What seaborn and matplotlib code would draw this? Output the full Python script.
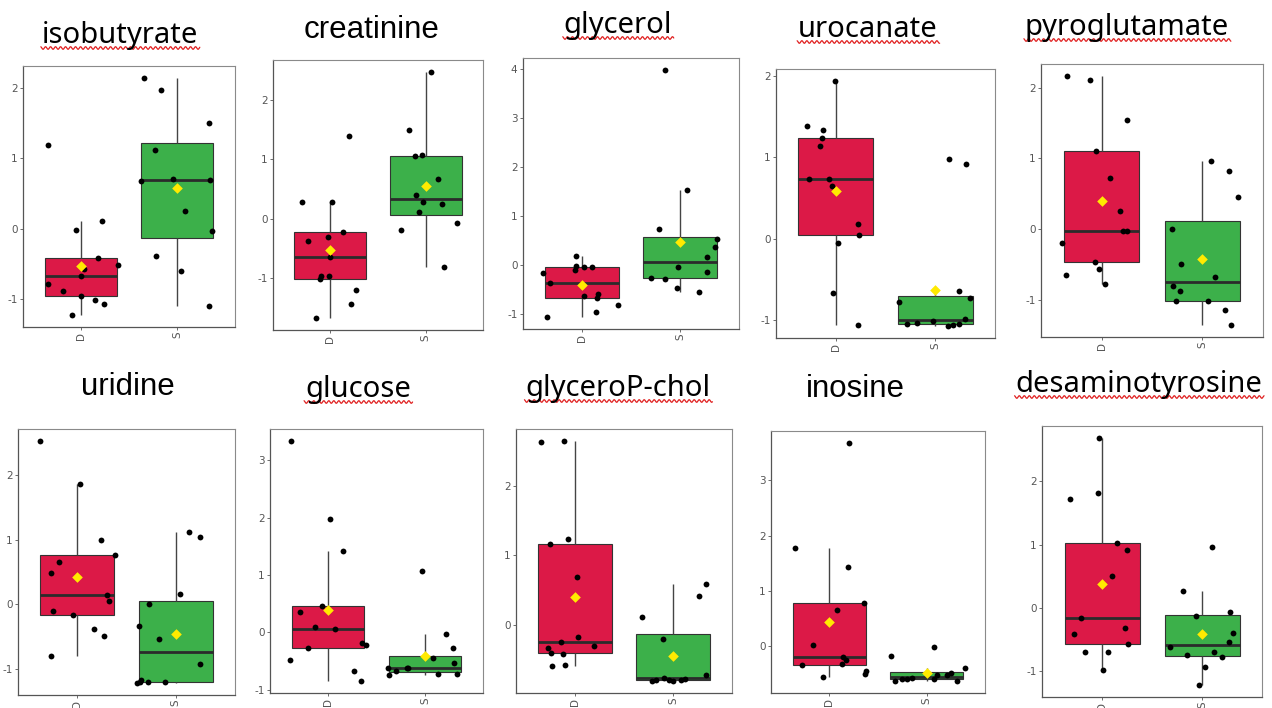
import numpy as np
import pandas as pd
import matplotlib
matplotlib.use("Agg")
import matplotlib.pyplot as plt
from matplotlib.lines import Line2D
from matplotlib.ticker import MultipleLocator
import seaborn as sns

# ---------------- data ----------------
groups = ["D", "S"]

isobutyrate_D = [1.18, 0.11, -0.02, -0.42, -0.52, -0.58, -0.68, -0.79, -0.89, -0.96, -1.02, -1.07, -1.23]
isobutyrate_S = [2.14, 1.97, 1.50, 1.12, 0.71, 0.69, 0.68, 0.25, -0.04, -0.39, -0.60, -1.10]

creatinine_D = [0.29, 0.29, 1.40, -0.22, -0.31, -0.38, -0.64, -0.96, -0.96, -1.02, -1.21, -1.44, -1.67]
creatinine_S = [2.47, 1.49, 1.08, 1.05, 0.67, 0.40, 0.28, 0.25, 0.11, -0.07, -0.19, -0.82]

glycerol_D = [0.18, -0.03, -0.05, -0.05, -0.11, -0.16, -0.38, -0.59, -0.63, -0.68, -0.83, -0.97, -1.06]
glycerol_S = [3.98, 1.53, 0.74, 0.52, 0.36, 0.16, -0.04, -0.15, -0.26, -0.29, -0.48, -0.56]

urocanate_D = [1.93, 1.38, 1.33, 1.23, 1.13, 0.73, 0.73, 0.64, 0.18, 0.04, -0.05, -0.67, -1.06]
urocanate_S = [0.91, 0.97, -0.64, -0.73, -0.78, -0.99, -1.03, -1.01, -1.05, -1.06, -1.05, -1.07]

pyroglutamate_D = [2.16, 2.11, 1.54, 1.11, 0.73, 0.25, -0.03, -0.03, -0.19, -0.47, -0.57, -0.65, -0.78]
pyroglutamate_S = [0.97, 0.82, 0.46, 0.00, -0.49, -0.68, -0.81, -0.87, -1.02, -1.02, -1.15, -1.35]

uridine_D = [2.52, 1.86, 0.99, 0.77, 0.66, 0.49, 0.14, 0.06, -0.10, -0.17, -0.38, -0.49, -0.80]
uridine_S = [1.12, 1.04, 0.16, 0.01, -0.33, -0.54, -0.92, -1.20, -1.21, -1.20, -1.17, -1.20]

glucose_D = [3.34, 1.97, 1.42, 0.46, 0.36, 0.10, 0.06, -0.19, -0.23, -0.27, -0.49, -0.68, -0.85]
glucose_S = [1.07, -0.03, -0.28, -0.45, -0.54, -0.63, -0.62, -0.62, -0.68, -0.73, -0.74, -0.73]

glycerophchol_D = [2.64, 2.65, 1.23, 1.16, 0.69, -0.18, -0.25, -0.31, -0.34, -0.40, -0.42, -0.58, -0.60]
glycerophchol_S = [0.59, 0.42, 0.11, -0.21, -0.81, -0.80, -0.79, -0.81, -0.73, -0.76, -0.78, -0.80]

inosine_D = [3.68, 1.78, 1.43, 0.78, 0.66, 0.02, -0.20, -0.25, -0.32, -0.34, -0.45, -0.51, -0.56]
inosine_S = [-0.01, -0.17, -0.40, -0.49, -0.52, -0.52, -0.59, -0.58, -0.59, -0.60, -0.62, -0.63]

desaminotyrosine_D = [2.68, 1.81, 1.72, 1.02, 0.92, 0.51, -0.15, -0.31, -0.41, -0.57, -0.69, -0.70, -0.98]
desaminotyrosine_S = [0.96, 0.27, -0.07, -0.12, -0.40, -0.54, -0.62, -0.70, -0.74, -0.78, -0.93, -1.21]

titles = ["isobutyrate", "creatinine", "glycerol", "urocanate", "pyroglutamate",
          "uridine", "glucose", "glyceroP-chol", "inosine", "desaminotyrosine"]
series = [(isobutyrate_D, isobutyrate_S), (creatinine_D, creatinine_S),
          (glycerol_D, glycerol_S), (urocanate_D, urocanate_S),
          (pyroglutamate_D, pyroglutamate_S), (uridine_D, uridine_S),
          (glucose_D, glucose_S), (glycerophchol_D, glycerophchol_S),
          (inosine_D, inosine_S), (desaminotyrosine_D, desaminotyrosine_S)]
spellchecked = {"isobutyrate", "glycerol", "urocanate", "pyroglutamate",
                "glucose", "glyceroP-chol", "desaminotyrosine"}

# ---------------- layout / style ----------------
W, H = 1272, 708
panel_px = [(23, 66, 235, 327), (273, 60, 483, 330), (523, 58, 739, 329),
            (776, 69, 995, 338), (1041, 64, 1263, 337),
            (18, 429, 235, 695), (270, 429, 483, 693), (516, 429, 732, 693),
            (771, 431, 985, 693), (1042, 426, 1262, 697)]
title_px = [(120, 43), (372, 38), (618, 33), (868, 37), (1127, 35),
            (128, 395), (358, 397), (618, 396), (855, 397), (1139, 392)]

RED = "#DC1947"
GREEN = "#3CB04A"
YELLOW = "#FFEA00"

sns.set_style("white")
plt.rcParams["font.family"] = ["DejaVu Sans"]
plt.rcParams["axes.unicode_minus"] = False

np.random.seed(7)
fig = plt.figure(figsize=(W / 100, H / 100), dpi=100)

for (dvals, svals), title, (l, t, r, b) in zip(series, titles, panel_px):
    ax = fig.add_axes([l / W, 1 - b / H, (r - l) / W, (b - t) / H])
    df = pd.DataFrame({"group": ["D"] * len(dvals) + ["S"] * len(svals),
                       "value": list(dvals) + list(svals)})
    sns.boxplot(data=df, x="group", y="value", hue="group", order=groups,
                palette={"D": RED, "S": GREEN}, saturation=1, width=0.75,
                showfliers=False, showcaps=False, whis=1.5, linewidth=0.8,
                linecolor="#333333",
                medianprops={"color": "#2b2b2b", "linewidth": 2.0},
                whiskerprops={"color": "#444444", "linewidth": 1.0},
                legend=False, ax=ax)
    sns.stripplot(data=df, x="group", y="value", order=groups, color="black",
                  jitter=0.4, size=4.2, linewidth=0, ax=ax, zorder=3)
    sns.pointplot(data=df, x="group", y="value", order=groups, estimator="mean",
                  errorbar=None, color=YELLOW, markers="D", linestyle="none",
                  markersize=3.4, ax=ax, zorder=4)
    allv = np.array(list(dvals) + list(svals))
    lo, hi = allv.min(), allv.max()
    pad = 0.05 * (hi - lo)
    ax.set_ylim(lo - pad, hi + pad)
    ax.set_xlim(-0.6, 1.6)
    ax.yaxis.set_major_locator(MultipleLocator(1))
    ax.set_xlabel("")
    ax.set_ylabel("")
    ax.tick_params(axis="both", labelsize=7.5, labelcolor="#555555",
                   color="#555555", length=2.5, width=0.6, pad=1.5, left=True,
                   bottom=True)
    ax.tick_params(axis="x", labelrotation=90, pad=1)
    for side, sp in ax.spines.items():
        sp.set_visible(True)
        sp.set_color("#555555" if side in ("left", "bottom") else "#8a8a8a")
        sp.set_linewidth(0.9 if side in ("left", "bottom") else 0.8)

# titles
texts = []
for title, (cx, by) in zip(titles, title_px):
    if title in spellchecked:
        fam, fs = ["Noto Sans", "DejaVu Sans"], 21
    else:
        fam, fs = ["Liberation Sans", "DejaVu Sans"], 22.5
    txt = fig.text(cx / W, 1 - by / H, title, ha="center", va="baseline",
                   fontsize=fs, family=fam, color="black")
    texts.append((title, txt, by))

fig.canvas.draw()
renderer = fig.canvas.get_renderer()
for title, txt, by in texts:
    if title not in spellchecked:
        continue
    bb = txt.get_window_extent(renderer)
    xs = np.arange(bb.x0 - 1, bb.x1 + 2, 0.5)
    ys_top = by + 5 + 1.3 * np.sin(2 * np.pi * (xs - bb.x0) / 5.0)
    fig.add_artist(Line2D(xs / W, 1 - ys_top / H, color="#E02020",
                          linewidth=0.9, transform=fig.transFigure))

fig.savefig("out.png", dpi=100)
